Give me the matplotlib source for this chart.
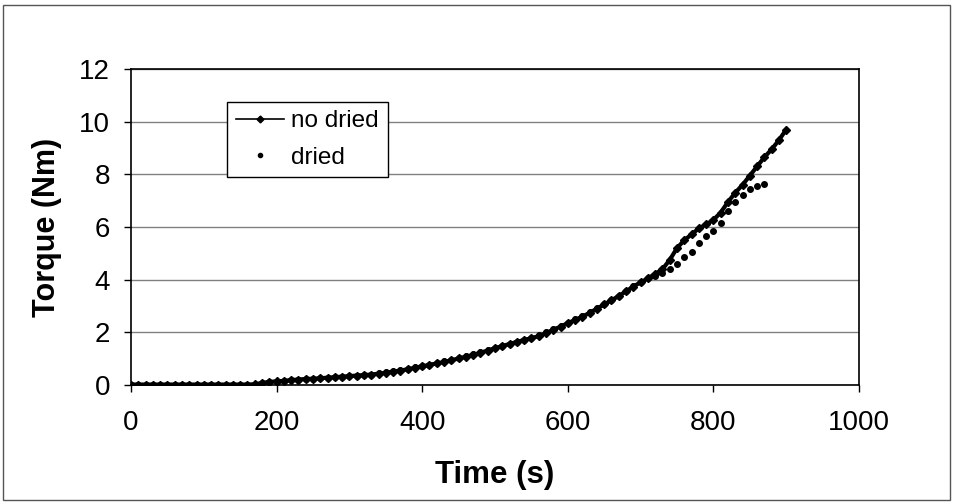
import numpy as np
import matplotlib.pyplot as plt
from matplotlib.patches import Rectangle
from matplotlib.lines import Line2D

plt.rcParams['font.family'] = ['Liberation Sans', 'DejaVu Sans']

# time grid (s), one reading every 10 s
t_no_dried = np.arange(0, 910, 10)
torque_no_dried = [
    0.02, 0.02, 0.02, 0.02, 0.02, 0.02, 0.02, 0.02, 0.02, 0.02,
    0.02, 0.02, 0.02, 0.02, 0.02, 0.02, 0.02, 0.03, 0.08, 0.12,
    0.14, 0.16, 0.19, 0.21, 0.23, 0.24, 0.26, 0.28, 0.30, 0.32,
    0.34, 0.36, 0.38, 0.40, 0.43, 0.47, 0.51, 0.55, 0.60, 0.66,
    0.71, 0.77, 0.82, 0.88, 0.94, 1.01, 1.08, 1.15, 1.23, 1.31,
    1.40, 1.48, 1.56, 1.64, 1.71, 1.78, 1.86, 1.97, 2.10, 2.22,
    2.35, 2.47, 2.60, 2.74, 2.90, 3.06, 3.22, 3.38, 3.56, 3.74,
    3.90, 4.05, 4.22, 4.40, 4.75, 5.20, 5.50, 5.72, 5.95, 6.10,
    6.27, 6.55, 6.95, 7.30, 7.60, 7.95, 8.30, 8.65, 8.95, 9.30,
    9.70,
]

t_dried = np.arange(0, 880, 10)
torque_dried = [
    0.01, 0.01, 0.01, 0.01, 0.01, 0.01, 0.01, 0.01, 0.01, 0.01,
    0.01, 0.01, 0.01, 0.01, 0.01, 0.01, 0.01, 0.02, 0.06, 0.10,
    0.13, 0.15, 0.18, 0.20, 0.22, 0.23, 0.25, 0.27, 0.29, 0.31,
    0.33, 0.35, 0.37, 0.40, 0.44, 0.48, 0.52, 0.57, 0.62, 0.67,
    0.73, 0.78, 0.84, 0.90, 0.96, 1.03, 1.10, 1.17, 1.25, 1.33,
    1.41, 1.49, 1.57, 1.65, 1.72, 1.80, 1.89, 2.00, 2.12, 2.24,
    2.36, 2.49, 2.62, 2.76, 2.91, 3.07, 3.24, 3.40, 3.58, 3.76,
    3.92, 4.05, 4.15, 4.25, 4.40, 4.60, 4.85, 5.05, 5.40, 5.65,
    5.85, 6.15, 6.60, 6.95, 7.20, 7.45, 7.55, 7.65,
]

fig = plt.figure(figsize=(9.54, 5.04), dpi=100)
ax = fig.add_axes([0.1373, 0.236, 0.7631, 0.627])

ax.plot(t_no_dried, torque_no_dried, color='black', lw=3, marker='D',
        ms=4.5, zorder=3)
ax.plot(t_dried, torque_dried, color='black', lw=0, marker='o',
        ms=4, zorder=3)

ax.set_xlim(0, 1000)
ax.set_ylim(0, 12)
ax.set_xticks(range(0, 1001, 200))
ax.set_yticks(range(0, 13, 2))
ax.grid(axis='y', color='#808080', lw=1)
ax.set_axisbelow(True)
ax.tick_params(labelsize=20, direction='out', length=5, width=1)
ax.tick_params(axis='x', pad=13)
ax.tick_params(axis='y', pad=10)
for sp in ax.spines.values():
    sp.set_color('black')
    sp.set_linewidth(1.2)

ax.set_xlabel('Time (s)', fontsize=22.5, fontweight='bold', labelpad=17)
ax.set_ylabel('Torque (Nm)', fontsize=22, fontweight='bold', labelpad=12)

handles = [Line2D([], [], color='black', lw=1.2, marker='D', ms=3.5),
           Line2D([], [], color='black', lw=0, marker='o', ms=3)]
leg = ax.legend(handles, ['no dried', 'dried'], loc='upper left',
                bbox_to_anchor=(0.132, 0.897), fontsize=17.5,
                frameon=True, fancybox=False, edgecolor='black', framealpha=1,
                borderaxespad=0, handlelength=2.0, handletextpad=0.3,
                borderpad=0.35, labelspacing=0.6)
leg.get_frame().set_linewidth(1)

fig.patches.append(Rectangle((3 / 954, 4 / 504), 947 / 954, 495 / 504,
                             transform=fig.transFigure, fill=False,
                             edgecolor='#555555', lw=1))

fig.savefig('out.png', dpi=100)
